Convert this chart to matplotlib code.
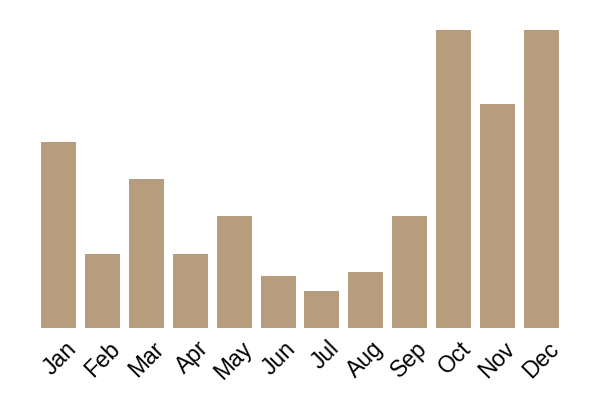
import numpy as np
import matplotlib.pyplot as plt
from matplotlib import transforms

months = ['Jan', 'Feb', 'Mar', 'Apr', 'May', 'Jun',
          'Jul', 'Aug', 'Sep', 'Oct', 'Nov', 'Dec']
values = [5, 2, 4, 2, 3, 1.4, 1, 1.5, 3, 8, 6.02, 8]

plt.rcParams['font.family'] = ['Liberation Sans', 'DejaVu Sans']

fig = plt.figure(figsize=(6, 4), dpi=100)
ax = fig.add_axes([37 / 600, 72 / 400, 526 / 600, 298 / 400])

x = np.arange(len(months))
ax.bar(x, values, width=0.8, color='#b79c7e')
ax.set_xlim(-0.5, len(months) - 0.5)
ax.set_ylim(0, max(values))

# month labels, rotated, drawn as plain text under each bar
trans = ax.get_xaxis_transform() + transforms.ScaledTranslation(
    6 / 100, -9 / 100, fig.dpi_scale_trans)
for xi, m in zip(x, months):
    ax.text(xi, 0, m, transform=trans, rotation=45, ha='right', va='top',
            rotation_mode='anchor', fontsize=16.5)

ax.set_xticks([])
ax.set_yticks([])
for s in ax.spines.values():
    s.set_visible(False)

fig.savefig('out.png', dpi=100)
